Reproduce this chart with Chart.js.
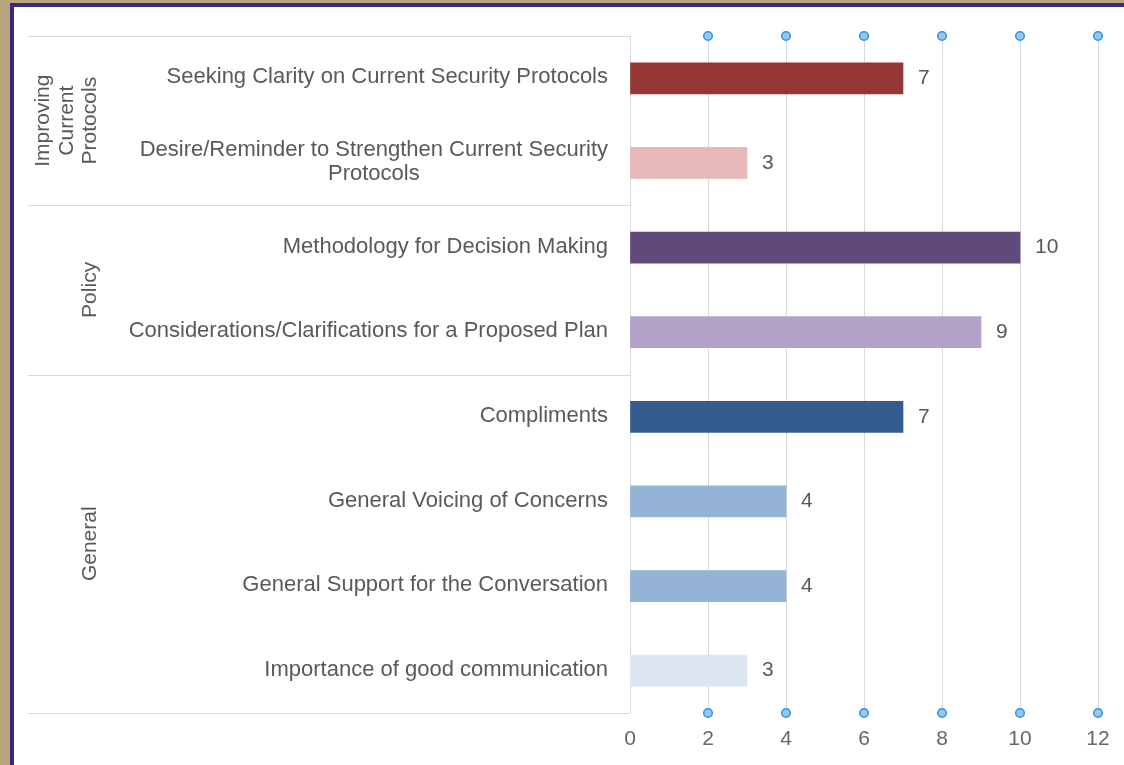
<!DOCTYPE html>
<html>
<head>
<meta charset="utf-8">
<script src="https://cdn.jsdelivr.net/npm/chart.js@4/dist/chart.umd.min.js"></script>
<style>
html, body { margin: 0; padding: 0; width: 1124px; height: 765px; overflow: hidden; background: #b8a47e; }
#frame { position: absolute; left: 10px; top: 3px; right: -10px; bottom: -10px; border-left: 4px solid #3a2885; border-top: 4px solid #3a2885; background: #fff; }
#chart { position: absolute; left: 0; top: 0; }
</style>
</head>
<body>
<div id="frame"></div>
<canvas id="chart" width="1124" height="765"></canvas>
<script>
const categories = [
    'Seeking Clarity on Current Security Protocols',
    ['Desire/Reminder to Strengthen Current Security', 'Protocols'],
    'Methodology for Decision Making',
    'Considerations/Clarifications for a Proposed Plan',
    'Compliments',
    'General Voicing of Concerns',
    'General Support for the Conversation',
    'Importance of good communication',
];

const counts = [7, 3, 10, 9, 7, 4, 4, 3];

const groupNames = [
    ['Improving', 'Current', 'Protocols'],
    ['Policy'],
    ['General'],
];
const groupSizes = [2, 2, 4];

const xTicks = [0, 2, 4, 6, 8, 10, 12];

const barColors = ['#953735', '#e6b9b8', '#604a7b', '#b3a2c7', '#345c8e', '#95b3d7', '#95b3d7', '#dce6f2'];

const FONT = '"Liberation Sans", Arial, sans-serif';

const decorations = {
    id: 'decorations',
    afterDraw(chart) {
        const ctx = chart.ctx;
        const area = chart.chartArea;
        const yScale = chart.scales.y;
        const xScale = chart.scales.x;
        ctx.save();

        // category labels, block right aligned, lines centred in block
        ctx.font = '22px ' + FONT;
        ctx.fillStyle = '#595959';
        ctx.textBaseline = 'middle';
        ctx.textAlign = 'center';
        categories.forEach((label, i) => {
            const lines = Array.isArray(label) ? label : [label];
            const cy = yScale.getPixelForValue(i);
            const widest = Math.max(...lines.map(l => ctx.measureText(l).width));
            const cx = area.left - 22 - widest / 2;
            lines.forEach((line, j) => {
                ctx.fillText(line, cx, cy - 1 + (j - (lines.length - 1) / 2) * 24);
            });
        });

        // group separators + rotated group names
        ctx.strokeStyle = '#d9d9d9';
        ctx.lineWidth = 1;
        let start = 0;
        const boundary = (idx) => {
            if (idx <= 0) return area.top;
            if (idx >= categories.length) return area.bottom;
            return (yScale.getPixelForValue(idx - 1) + yScale.getPixelForValue(idx)) / 2;
        };
        ctx.beginPath();
        ctx.moveTo(28, Math.round(area.top) + 0.5);
        ctx.lineTo(area.left, Math.round(area.top) + 0.5);
        ctx.stroke();
        ctx.font = '21px ' + FONT;
        ctx.textBaseline = 'alphabetic';
        groupSizes.forEach((size, g) => {
            const top = boundary(start);
            const bottom = boundary(start + size);
            ctx.beginPath();
            ctx.moveTo(28, Math.round(bottom) + 0.5);
            ctx.lineTo(area.left, Math.round(bottom) + 0.5);
            ctx.stroke();
            const names = groupNames[g];
            ctx.save();
            ctx.translate(96, (top + bottom) / 2);
            ctx.rotate(-Math.PI / 2);
            names.forEach((n, j) => {
                ctx.fillText(n, 0, -(names.length - 1 - j) * 23.5);
            });
            ctx.restore();
            start += size;
        });

        // value labels
        ctx.font = '21px ' + FONT;
        ctx.textAlign = 'left';
        ctx.textBaseline = 'middle';
        ctx.fillStyle = '#595959';
        chart.getDatasetMeta(0).data.forEach((bar, i) => {
            ctx.fillText(String(counts[i]), bar.x + 15, bar.y);
        });

        // tick dots on top and bottom of grid lines
        ctx.fillStyle = '#8fcaf6';
        ctx.strokeStyle = '#3b8ed8';
        ctx.lineWidth = 1.5;
        xTicks.slice(1).forEach(v => {
            const px = xScale.getPixelForValue(v);
            [area.top, area.bottom].forEach(py => {
                ctx.beginPath();
                ctx.arc(px, py, 4.3, 0, Math.PI * 2);
                ctx.fill();
                ctx.stroke();
            });
        });
        ctx.restore();
    }
};

new Chart(document.getElementById('chart'), {
    type: 'bar',
    data: {
        labels: categories.map(c => Array.isArray(c) ? c.join(' ') : c),
        datasets: [{
            data: counts,
            backgroundColor: barColors,
            barThickness: 31,
        }]
    },
    options: {
        indexAxis: 'y',
        responsive: false,
        animation: false,
        layout: { padding: { left: 630, right: 26, top: 36, bottom: 0 } },
        plugins: {
            legend: { display: false },
            tooltip: { enabled: false },
        },
        scales: {
            x: {
                min: 0,
                max: 12,
                afterBuildTicks: (s) => { s.ticks = xTicks.map(v => ({ value: v })); },
                ticks: { color: '#666', font: { size: 21, family: FONT }, padding: 14 },
                grid: { color: '#d9d9d9', drawTicks: false },
                border: { display: false },
                afterFit: (s) => { s.height = 52; },
            },
            y: {
                ticks: { display: false },
                grid: { display: false },
                border: { display: false },
                afterFit: (s) => { s.width = 0; },
            }
        }
    },
    plugins: [decorations]
});
</script>
</body>
</html>
